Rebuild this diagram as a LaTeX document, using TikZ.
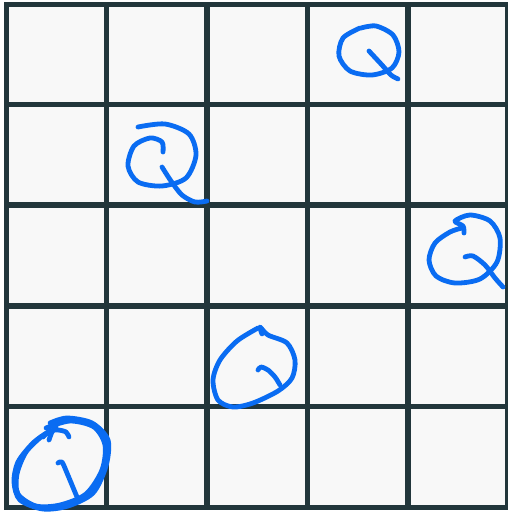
\documentclass[tikz,border=0pt]{standalone}
\usepackage{tikz}
\definecolor{boardline}{HTML}{22363B}
\definecolor{boardfill}{HTML}{F8F8F8}
\definecolor{inkblue}{HTML}{0A6CF2}

\begin{document}
\begin{tikzpicture}[x=1pt, y=-1pt,
    gridline/.style={draw=boardline, line width=5.2pt, line cap=rect},
    queen/.style={draw=inkblue, line width=4.8pt, line cap=round, line join=round}]

    % Canvas and board background
    \useasboundingbox (0,0) rectangle (508,512);
    \fill[white] (0,0) rectangle (508,512);
    \fill[boardfill] (6.5,4.5) rectangle (507.5,507.5);

    % Vertical grid lines
    \foreach \gx in {6.5,106.5,207,307.5,408,507.5}
        \draw[gridline] (\gx,4.5) -- (\gx,507.5);

    % Horizontal grid lines
    \foreach \gy in {4.5,104.5,205,306,406.5,507.5}
        \draw[gridline] (6.5,\gy) -- (507.5,\gy);

    % Queen in row 1, column 4
    \draw[queen] plot[smooth] coordinates {(361,28) (376,26) (393,35) (399,52)
        (392,68) (372,75) (350,71) (339,56) (343,38) (360,28)};
    \draw[queen] plot[smooth] coordinates {(369,51) (382,65) (391,75) (398,79)};

    % Queen in row 2, column 2
    \draw[queen] plot[smooth] coordinates {(138,127) (165,124) (189,134) (196,155)
        (186,178) (162,186) (138,182) (128,166) (134,146) (150,138) (162,142) (163,152)};
    \draw[queen] plot[smooth] coordinates {(162,167) (171,181) (182,195) (195,202) (207,201)};

    % Queen in row 3, column 5
    \draw[queen] plot[smooth] coordinates {(464,233) (463,226) (455,221) (470,215)
        (490,221) (500,238) (497,262) (480,279) (455,283) (436,276) (429,260)
        (435,243) (450,232) (462,228)};
    \draw[queen] plot[smooth] coordinates {(465,257) (473,256) (485,265) (495,278) (503,287)};

    % Queen in row 4, column 3
    \draw[queen] plot[smooth] coordinates {(262,334) (260,327) (268,335) (287,343)
        (295,360) (292,378) (278,391) (253,403) (233,407) (218,400) (213,380)
        (220,360) (237,341) (258,328)};
    \draw[queen] plot[smooth] coordinates {(258,370) (261,367) (268,370) (275,377) (280,385)};

    % Queen in row 5, column 1 (traced over several times)
    \draw[queen] plot[smooth] coordinates {(50,423) (67,418) (92,423) (108,440)
        (106,466) (93,493) (68,506) (43,509) (20,500) (14,482) (18,462) (33,443) (48,432)};
    \draw[queen] plot[smooth] coordinates {(46,428) (70,421) (94,427) (105,445)
        (102,470) (86,494) (60,505) (36,506) (18,494) (17,474) (26,452) (42,436)};
    \draw[queen] plot[smooth] coordinates {(43,437) (50,431) (58,430) (66,432) (69,437)};
    \draw[queen] plot[smooth] coordinates {(49,440) (52,432) (56,427)};
    \draw[queen] plot[smooth] coordinates {(58,463) (62,462) (67,473) (72,485) (77,497)};

\end{tikzpicture}
\end{document}
